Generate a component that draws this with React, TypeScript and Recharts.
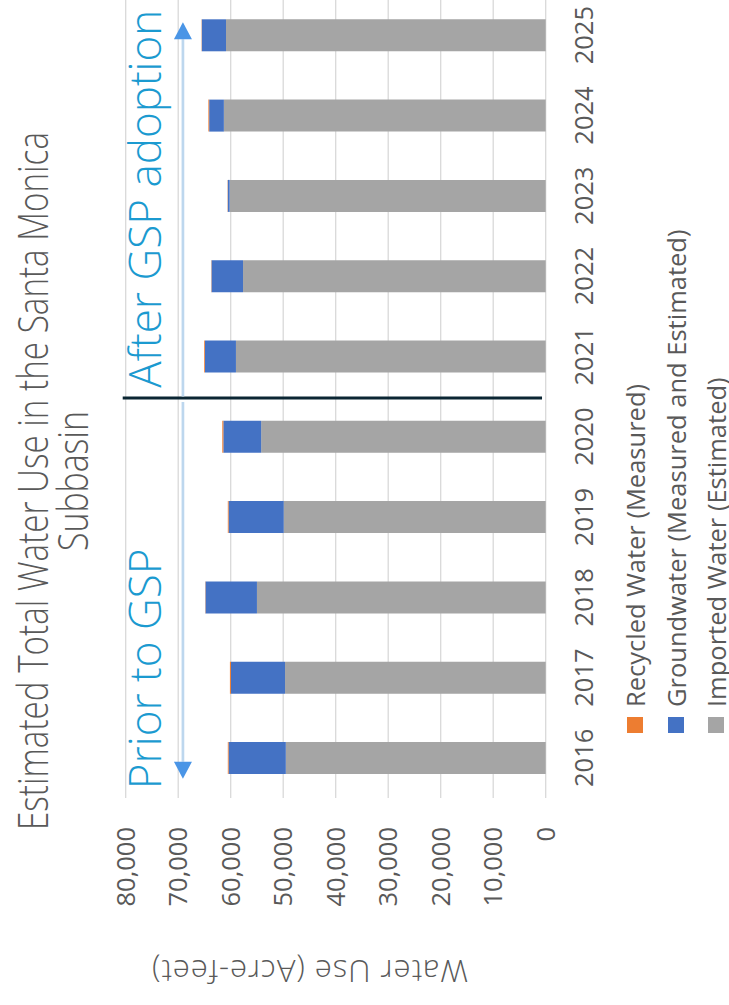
import React from 'react';
import {
  BarChart,
  Bar,
  XAxis,
  YAxis,
  CartesianGrid,
  Legend,
  ReferenceLine,
  Customized,
} from 'recharts';

// Estimated total water use, Santa Monica Subbasin (acre-feet)
const years = ['2016', '2017', '2018', '2019', '2020', '2021', '2022', '2023', '2024', '2025'];
const importedWater = [49500, 49650, 55000, 49900, 54200, 59000, 57650, 60200, 61300, 60900];
const groundwater = [10900, 10300, 9800, 10500, 7200, 5900, 6000, 350, 2800, 4600];
const recycledWater = [150, 200, 50, 150, 200, 150, 50, 50, 150, 50];
const valueTicks = [0, 10000, 20000, 30000, 40000, 50000, 60000, 70000, 80000];

// legend order (top to bottom)
const legendItems = [
  { label: 'Recycled Water (Measured)', color: '#ED7D31' },
  { label: 'Groundwater (Measured and Estimated)', color: '#4472C4' },
  { label: 'Imported Water (Estimated)', color: '#A5A5A5' },
];

// annotation positions: category units (0 = left edge of 2016 band) and acre-feet
const gspSplit = 4.98;
const splitTop = 80570;
const splitBottom = 700;
const arrowLevel = 69100;
const priorArrow = [4.93, 0.24];
const afterArrow = [5.0, 9.66];
const labelLevel = 73300;
const priorLabelAt = 0.11;
const afterLabelAt = 5.11;

const data = years.map((year, i) => ({
  year,
  imported: importedWater[i],
  groundwater: groundwater[i],
  recycled: recycledWater[i],
}));

const FONT = '"Open Sans", Lato, sans-serif';
const TEXT = '#595959';
const ACCENT = '#1B9AD0';

const W = 1016;
const H = 729;

// x position of a fractional category, given the centers of the first and last bands
const spanPos = (x1: number, x2: number, f: number) =>
  x1 + ((f - 0.5) * (x2 - x1)) / (years.length - 1);

function arrow(xFrom: number, xTo: number, y: number, key: string) {
  const dir = xTo > xFrom ? 1 : -1;
  const head = 17;
  const half = 9;
  const bx = xTo - dir * head;
  return (
    <g key={key}>
      <line x1={xFrom} y1={y} x2={bx} y2={y} stroke="#BDD7EE" strokeWidth={2.7} />
      <polygon points={`${xTo},${y} ${bx},${y - half} ${bx},${y + half}`} fill="#4A95E6" />
    </g>
  );
}

function SplitShape(props: any) {
  const { x1, y1, x2, y2 } = props;
  const x = spanPos(x1, x2, gspSplit);
  return <line x1={x} y1={y1} x2={x} y2={y2} stroke="#0B2633" strokeWidth={3} />;
}

function ArrowsShape(props: any) {
  const { x1, y1, x2 } = props;
  return (
    <g>
      {arrow(spanPos(x1, x2, priorArrow[0]), spanPos(x1, x2, priorArrow[1]), y1, 'prior')}
      {arrow(spanPos(x1, x2, afterArrow[0]), spanPos(x1, x2, afterArrow[1]), y1, 'after')}
    </g>
  );
}

function LabelsShape(props: any) {
  const { x1, y1, x2 } = props;
  const common = {
    fill: ACCENT,
    fontSize: 44,
    fontWeight: 300,
    fontFamily: FONT,
    textAnchor: 'start' as const,
  };
  return (
    <g>
      <text x={spanPos(x1, x2, priorLabelAt)} y={y1} {...common}>
        Prior to GSP
      </text>
      <text x={spanPos(x1, x2, afterLabelAt)} y={y1} {...common}>
        After GSP adoption
      </text>
    </g>
  );
}

function Titles() {
  return (
    <g fontFamily={FONT} fill={TEXT}>
      <text
        x={524}
        y={48}
        textAnchor="middle"
        fontSize={43}
        fontWeight={300}
        textLength={698}
        lengthAdjust="spacingAndGlyphs"
      >
        Estimated Total Water Use in the Santa Monica
      </text>
      <text
        x={524}
        y={88}
        textAnchor="middle"
        fontSize={43}
        fontWeight={300}
        textLength={140}
        lengthAdjust="spacingAndGlyphs"
      >
        Subbasin
      </text>
      <text
        x={33}
        y={310}
        transform="rotate(-90 33 310)"
        textAnchor="middle"
        dominantBaseline="central"
        fontSize={31}
        fontWeight={300}
        textLength={316}
        lengthAdjust="spacing"
      >
        Water Use (Acre-feet)
      </text>
    </g>
  );
}

function renderLegend() {
  return (
    <div style={{ fontFamily: FONT, fontSize: 25.5, color: TEXT }}>
      {legendItems.map((item) => (
        <div
          key={item.label}
          style={{ display: 'flex', alignItems: 'center', height: 40.5, whiteSpace: 'nowrap' }}
        >
          <span
            style={{ width: 16, height: 16, background: item.color, marginRight: 10, flex: 'none' }}
          />
          <span>{item.label}</span>
        </div>
      ))}
    </div>
  );
}

export default function App() {
  return (
    <div
      style={{
        position: 'absolute',
        left: 0,
        top: 0,
        width: 729,
        height: 1005,
        overflow: 'hidden',
        background: '#fff',
      }}
    >
      <div
        style={{
          position: 'absolute',
          left: 0,
          top: 0,
          width: W,
          height: H,
          transformOrigin: '0 0',
          transform: 'translateY(1005px) rotate(-90deg)',
          fontFamily: FONT,
        }}
      >
        <BarChart
          width={W}
          height={H}
          data={data}
          margin={{ top: 125.7, right: 6, bottom: 153.3, left: 0 }}
        >
          <CartesianGrid vertical={false} stroke="#D9D9D9" strokeWidth={1.3} />
          <XAxis
            dataKey="year"
            axisLine={false}
            tickLine={false}
            tickSize={0}
            tickMargin={29}
            interval={0}
            tick={{ fill: TEXT, fontSize: 25.5, fontFamily: FONT }}
          />
          <YAxis
            type="number"
            domain={[0, 80000]}
            ticks={valueTicks}
            width={207}
            axisLine={false}
            tickLine={false}
            tickSize={0}
            tickMargin={29}
            tickFormatter={(v: number) => v.toLocaleString('en-US')}
            tick={{ fill: TEXT, fontSize: 25.5, fontFamily: FONT }}
          />
          <Legend
            layout="vertical"
            align="center"
            verticalAlign="middle"
            wrapperStyle={{ left: 272, top: 615, width: 600 }}
            content={renderLegend}
          />
          <Bar
            dataKey="imported"
            name={legendItems[2].label}
            stackId="a"
            fill={legendItems[2].color}
            barSize={32}
            isAnimationActive={false}
          />
          <Bar
            dataKey="groundwater"
            name={legendItems[1].label}
            stackId="a"
            fill={legendItems[1].color}
            barSize={32}
            isAnimationActive={false}
          />
          <Bar
            dataKey="recycled"
            name={legendItems[0].label}
            stackId="a"
            fill={legendItems[0].color}
            barSize={32}
            isAnimationActive={false}
          />
          <ReferenceLine
            segment={[
              { x: years[0], y: splitTop },
              { x: years[years.length - 1], y: splitBottom },
            ]}
            ifOverflow="visible"
            shape={SplitShape}
          />
          <ReferenceLine
            segment={[
              { x: years[0], y: arrowLevel },
              { x: years[years.length - 1], y: arrowLevel },
            ]}
            ifOverflow="visible"
            shape={ArrowsShape}
          />
          <ReferenceLine
            segment={[
              { x: years[0], y: labelLevel },
              { x: years[years.length - 1], y: labelLevel },
            ]}
            ifOverflow="visible"
            shape={LabelsShape}
          />
          <Customized component={<Titles />} />
        </BarChart>
      </div>
    </div>
  );
}
